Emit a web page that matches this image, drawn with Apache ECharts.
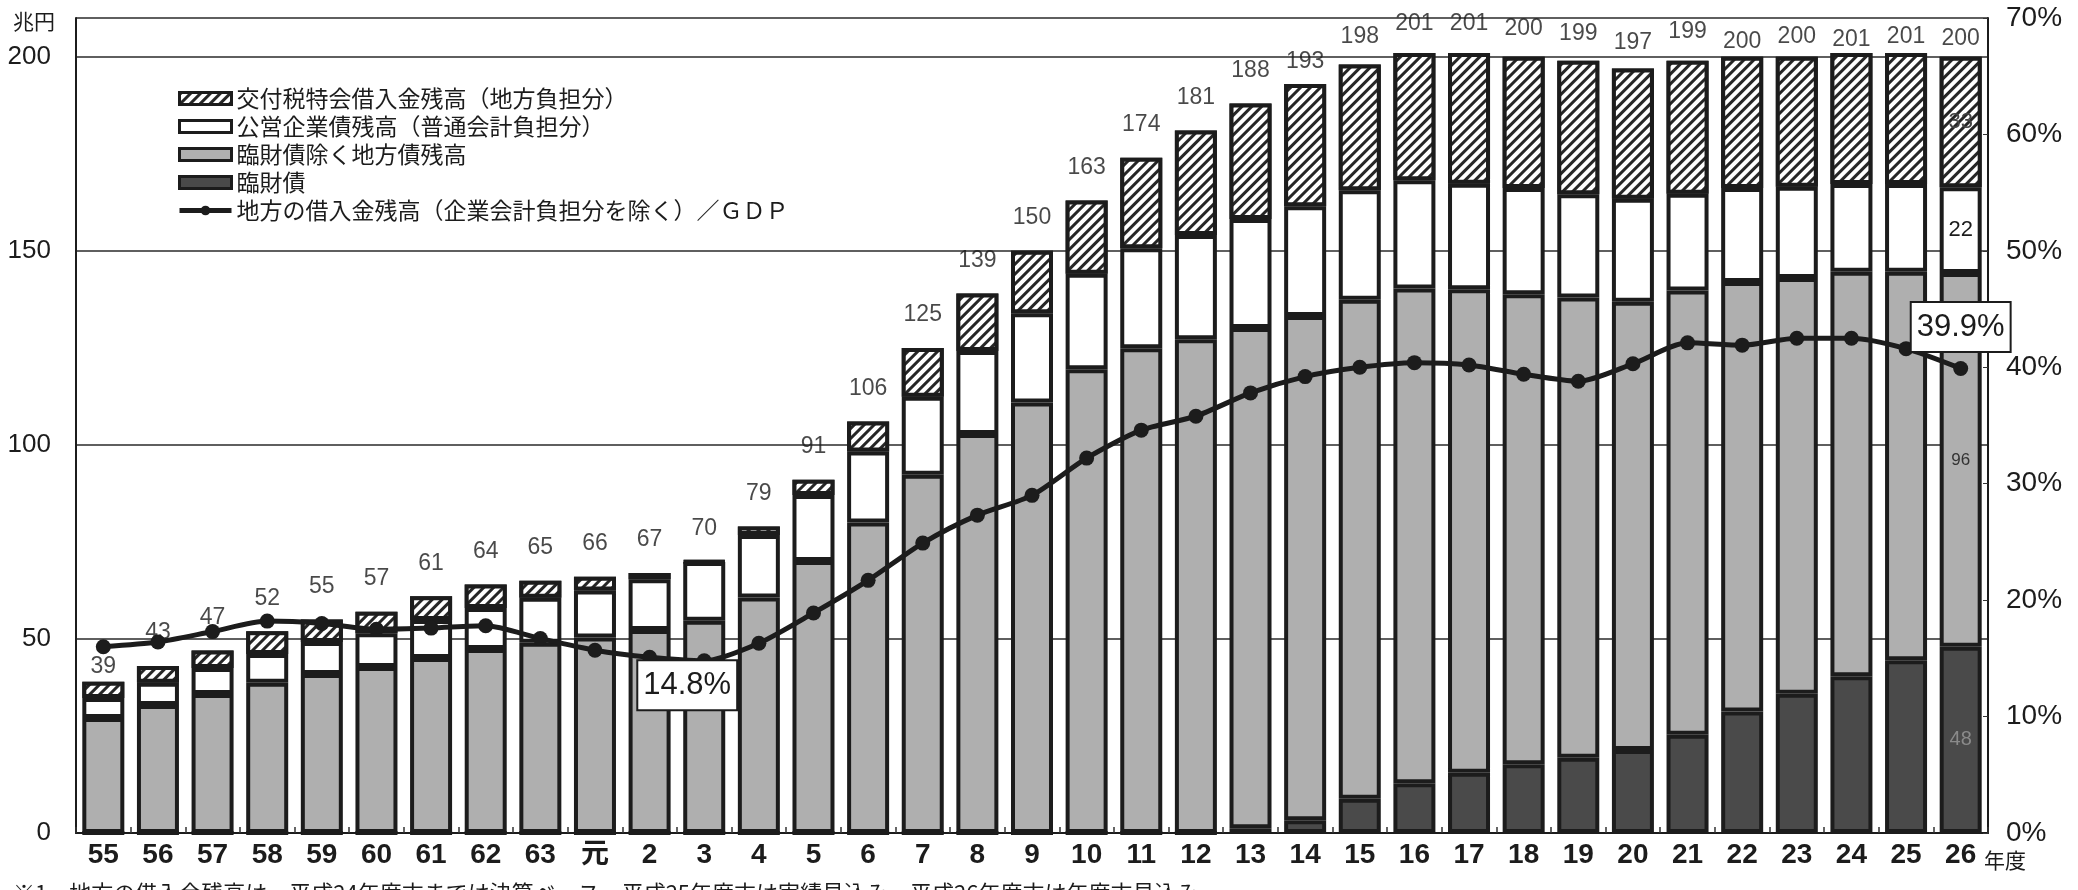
<!DOCTYPE html>
<html><head><meta charset="utf-8">
<script src="https://cdn.jsdelivr.net/npm/echarts@6/dist/echarts.min.js"></script>
<style>html,body{margin:0;padding:0;background:#fff}#c{width:2078px;height:890px}</style>
</head><body><div id="c"></div>
<script>
// ---- data (兆円 / %) ----
const categories = ['55','56','57','58','59','60','61','62','63','元','2','3','4','5','6','7','8','9','10','11','12','13','14','15','16','17','18','19','20','21','22','23','24','25','26'];
const totals = [39,43,47,52,55,57,61,64,65,66,67,70,79,91,106,125,139,150,163,174,181,188,193,198,201,201,200,199,197,199,200,200,201,201,200];
const rinzai = [0,0,0,0,0,0,0,0,0,0,0,0,0,0,0,0,0,0,0,0,0,1.2,3.3,8.8,12.8,15.5,17.7,19.4,21.4,25.3,31.3,35.9,40.4,44.5,48.0];
const chihousai = [29.6,33.0,35.8,38.7,41.0,42.8,45.1,47.4,49.0,50.4,52.3,54.7,60.7,70.1,80.0,92.3,102.8,110.9,119.5,124.9,127.2,128.9,129.9,128.6,127.5,124.6,121.1,118.6,115.5,114.5,110.7,107.1,104.2,100.1,96.3];
const koei = [5.2,5.7,6.7,7.4,8.2,8.7,9.8,10.6,11.6,12.1,13.1,15.1,16.1,17.0,18.3,20.1,21.4,23.0,24.6,25.8,26.9,28.1,28.3,28.2,27.9,27.2,27.4,26.6,26.5,24.9,24.2,23.5,22.6,22.6,22.1];
const kofuzei = [4.2,4.3,4.5,5.9,5.8,5.5,6.1,6.0,4.4,3.5,1.6,0.2,2.2,3.9,7.7,12.6,14.8,16.1,18.9,23.3,26.9,29.8,31.5,32.4,32.8,33.7,33.8,34.4,33.6,34.3,33.8,33.5,33.8,33.8,33.6];
const gdpRatio = [16.0,16.4,17.3,18.2,18.0,17.5,17.6,17.8,16.7,15.7,15.1,14.8,16.3,18.9,21.7,24.9,27.3,29.0,32.2,34.6,35.8,37.8,39.2,40.0,40.4,40.2,39.4,38.8,40.3,42.1,41.9,42.5,42.5,41.6,39.9];
// printed in-bar figures for the last year
const lastYearLabels = {kofuzei: '33', koei: '22', chihousai: '96', rinzai: '48'};
const calloutIdx = [11, 34];

// ---- styling ----
const NARROW = "'Liberation Sans',Arial,'Noto Sans CJK JP',sans-serif";
const SANS = "'Liberation Sans',Arial,'Noto Sans CJK JP',sans-serif";
const JP = "'Noto Sans CJK JP',sans-serif";
const INK = '#1c1c1c';
const last = categories.length - 1;
// distance of each total label above its bar (px), where the print moved it
const totalLabelGap = {0: 3, 22: 10, 23: 16, 24: 17, 25: 17, 26: 16, 27: 15, 28: 14, 29: 17, 30: 3, 31: 8, 32: 1, 33: 4, 34: 6};

function withLast(arr, text, style) {
  return arr.map((v, i) => i === last ? {value: v, label: Object.assign({show: true, position: 'inside', formatter: () => text}, style)} : v);
}
const BW = 4;
const barBase = {type: 'bar', stack: 'debt', barWidth: 42};

const chart = echarts.init(document.getElementById('c'));
chart.setOption({
  backgroundColor: '#fff',
  animation: false,
  grid: {left: 76, right: 90, top: 18, bottom: 57, containLabel: false},
  legend: {
    orient: 'vertical', left: 172, top: 82, itemWidth: 52, itemHeight: 12, itemGap: 5,
    itemStyle: {borderColor: INK, borderWidth: 3},
    textStyle: {fontFamily: JP, fontSize: 23, color: INK, lineHeight: 23},
    data: [
      {name: '交付税特会借入金残高（地方負担分）', icon: 'rect'},
      {name: '公営企業債残高（普通会計負担分）', icon: 'rect'},
      {name: '臨財債除く地方債残高', icon: 'rect'},
      {name: '臨財債', icon: 'rect'},
      {name: '地方の借入金残高（企業会計負担分を除く）／ＧＤＰ', itemStyle: {borderWidth: 0, color: INK}, lineStyle: {width: 5, color: INK}}
    ]
  },
  xAxis: {
    type: 'category', data: categories,
    axisLine: {lineStyle: {color: INK, width: 2}},
    axisTick: {show: true, inside: true, length: 6, lineStyle: {color: '#333', width: 1.5}},
    axisLabel: {fontFamily: NARROW, fontSize: 28, fontWeight: 'bold', color: INK, margin: 8}
  },
  yAxis: [
    {type: 'value', min: 0, max: 210, interval: 50,
     axisLine: {show: true, lineStyle: {color: INK, width: 2}}, axisTick: {show: false},
     axisLabel: {fontFamily: SANS, fontSize: 26, color: INK, margin: 25, formatter: v => v > 200 ? '' : v},
     splitLine: {show: true, lineStyle: {color: '#2a2a2a', width: 1.5}}},
    {type: 'value', min: 0, max: 70, interval: 10, position: 'right',
     axisLine: {show: true, lineStyle: {color: INK, width: 2}},
     axisTick: {show: true, inside: true, length: 5, lineStyle: {color: '#333'}},
     axisLabel: {fontFamily: SANS, fontSize: 28, color: INK, margin: 18, formatter: '{value}%'},
     splitLine: {show: false}}
  ],
  series: [
    Object.assign({}, barBase, {name: '臨財債', itemStyle: {color: '#4a4a4a', borderColor: INK, borderWidth: BW},
      data: withLast(rinzai, lastYearLabels.rinzai, {color: '#8a8a8a', fontFamily: SANS, fontSize: 20})}),
    Object.assign({}, barBase, {name: '臨財債除く地方債残高', itemStyle: {color: '#afafaf', borderColor: INK, borderWidth: BW},
      data: withLast(chihousai, lastYearLabels.chihousai, {color: '#333', fontFamily: SANS, fontSize: 17})}),
    Object.assign({}, barBase, {name: '公営企業債残高（普通会計負担分）', itemStyle: {color: '#ffffff', borderColor: INK, borderWidth: BW},
      data: withLast(koei, lastYearLabels.koei, {color: INK, fontFamily: SANS, fontSize: 22})}),
    Object.assign({}, barBase, {name: '交付税特会借入金残高（地方負担分）',
      itemStyle: {color: '#ffffff', borderColor: INK, borderWidth: BW,
        decal: {symbol: 'rect', symbolSize: 1, color: '#262626', backgroundColor: '#fff', dashArrayX: [1, 0], dashArrayY: [2.4, 3.2], rotation: -Math.PI / 4}},
      data: withLast(kofuzei, lastYearLabels.kofuzei, {color: '#444', fontFamily: SANS, fontSize: 22})}),
    {name: 'totals', type: 'scatter', yAxisIndex: 0, z: 6, symbolSize: 1, itemStyle: {color: 'rgba(0,0,0,0)'},
     silent: true,
     label: {show: true, position: 'top', distance: 21, fontFamily: SANS, fontSize: 23, color: INK,
       formatter: p => totals[p.dataIndex]},
     data: totals.map((t, i) => totalLabelGap[i] !== undefined ? {value: t, label: {distance: totalLabelGap[i]}} : t)},
    {name: '地方の借入金残高（企業会計負担分を除く）／ＧＤＰ', type: 'line', yAxisIndex: 1, z: 5,
     smooth: 0.25, symbol: 'circle', symbolSize: 15,
     lineStyle: {color: INK, width: 5}, itemStyle: {color: INK},
     data: gdpRatio.map((v, i) => {
       if (i === calloutIdx[0]) return {value: v, label: {show: true, position: 'bottom', distance: -7, offset: [-17, 0]}};
       if (i === calloutIdx[1]) return {value: v, label: {show: true, position: 'top', distance: 10}};
       return v;
     }),
     label: {show: false, formatter: p => p.value.toFixed(1) + '%', fontFamily: NARROW, fontSize: 31, color: INK,
       backgroundColor: '#fff', borderColor: INK, borderWidth: 2, padding: [9, 5, 8, 5]}}
  ],
  graphic: [
    {type: 'text', left: 13, top: 11, style: {text: '兆円', fontFamily: JP, fontSize: 21, fill: INK}},
    {type: 'text', left: 1984, top: 850, style: {text: '年度', fontFamily: JP, fontSize: 21, fill: INK}},
    {type: 'text', left: 13, top: 882, style: {text: '※1　地方の借入金残高は、平成24年度末までは決算ベース、平成25年度末は実績見込み、平成26年度末は年度末見込み', fontFamily: JP, fontSize: 22, fill: INK}}
  ]
});
</script></body></html>
